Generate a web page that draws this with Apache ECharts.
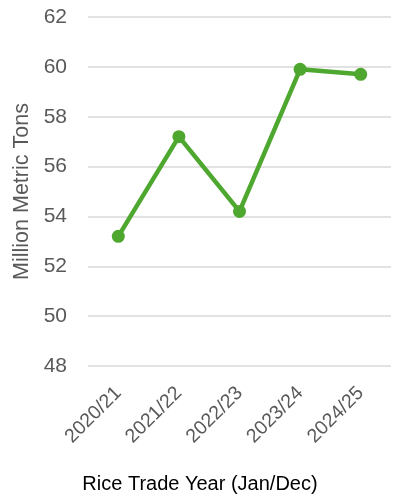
<!DOCTYPE html>
<html>
<head>
<meta charset="utf-8">
<script src="https://cdn.jsdelivr.net/npm/echarts@6/dist/echarts.min.js"></script>
<style>
  html, body { margin: 0; padding: 0; background: #fff; }
  #chart { width: 400px; height: 500px; }
</style>
</head>
<body>
<div id="chart"></div>
<script>
// rice trade years and volumes (million metric tons)
const years = ['2020/21', '2021/22', '2022/23', '2023/24', '2024/25'];
const volumes = [53.2, 57.2, 54.2, 59.9, 59.7];

const chart = echarts.init(document.getElementById('chart'));
chart.setOption({
  animation: false,
  textStyle: { fontFamily: 'Liberation Sans, Arial, sans-serif' },
  // x-axis title sits centred on the whole canvas, not the plot
  title: {
    text: 'Rice Trade Year (Jan/Dec)',
    left: 'center',
    top: 469,
    textStyle: { color: '#000', fontSize: 20, fontWeight: 'normal' }
  },
  grid: { left: 88, right: 9, top: 17, bottom: 134 },
  xAxis: {
    type: 'category',
    data: years,
    axisLine: { show: false },
    axisTick: { show: false },
    axisLabel: { rotate: 45, color: '#595959', fontSize: 19.5, margin: 24 }
  },
  yAxis: {
    type: 'value',
    min: 48,
    max: 62,
    interval: 2,
    name: 'Million Metric Tons',
    nameLocation: 'middle',
    nameGap: 53,
    nameTextStyle: { color: '#595959', fontSize: 21.5 },
    axisLabel: { color: '#595959', fontSize: 21, margin: 21 },
    splitLine: { lineStyle: { color: '#d9d9d9', width: 1.5 } }
  },
  series: [{
    type: 'line',
    data: volumes,
    symbol: 'circle',
    symbolSize: 13,
    lineStyle: { color: '#4ea72e', width: 4.5 },
    itemStyle: { color: '#4ea72e' }
  }]
});
</script>
</body>
</html>
